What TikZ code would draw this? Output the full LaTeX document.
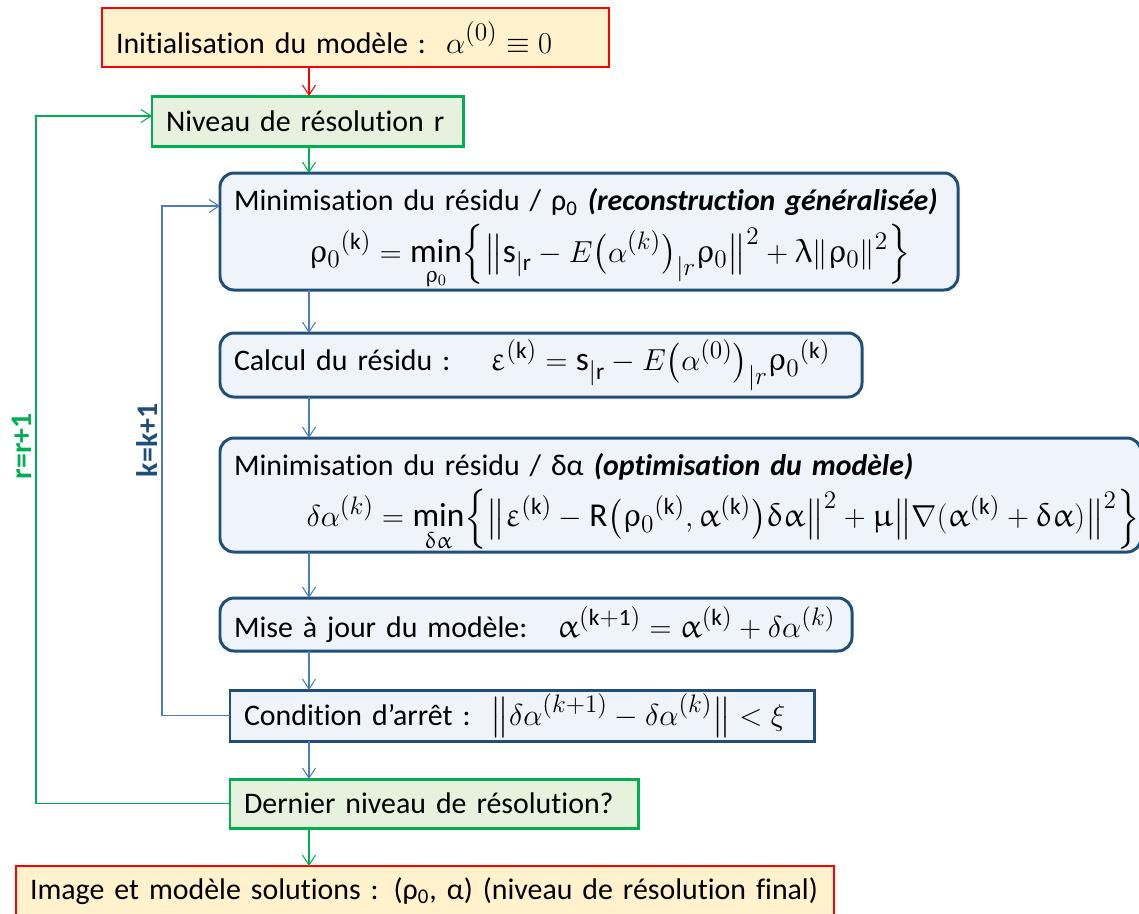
\documentclass[tikz,border=0pt]{standalone}
\usepackage{amsmath}
\usepackage{amssymb}
\usepackage{upgreek}
\usepackage{fontspec}
\setmainfont{Carlito}[Ligatures=NoCommon]
\usepackage{xcolor}
\usepackage{tikz}
\usetikzlibrary{arrows.meta, positioning}

\definecolor{initred}{HTML}{FF0000}
\definecolor{initfill}{HTML}{FFF2CC}
\definecolor{levgreen}{HTML}{00B050}
\definecolor{levfill}{HTML}{E6F2DD}
\definecolor{itblue}{HTML}{1F4E79}
\definecolor{itfill}{HTML}{EFF3FA}
\definecolor{arrblue}{HTML}{4A7EBB}
\newcommand{\eqm}[1]{\mbox{\fontsize{19}{23}\selectfont$\displaystyle #1$}}

\begin{document}
\begin{tikzpicture}
  \tikzset{
    box/.style={rectangle, inner xsep=0.28cm, inner ysep=0pt, outer sep=0pt, align=left,
                font=\fontsize{17}{20}\selectfont},
    inode/.style={box, draw=initred, line width=1.6pt, fill=initfill},
    lnode/.style={box, draw=levgreen, line width=1.7pt, fill=levfill},
    rnode/.style={box, rounded corners=8pt, draw=itblue, line width=1.7pt, fill=itfill},
    cnode/.style={box, draw=itblue, line width=1.7pt, fill=itfill},
    fnode/.style={box, draw=initred, line width=0.7pt, fill=initfill},
    arr/.style={-{Straight Barb[length=0.2cm, width=0.26cm]}, line width=0.6pt},
    lab/.style={font=\fontsize{17}{20}\selectfont\bfseries, rotate=90,
                anchor=south, inner sep=2pt}
  }
  \useasboundingbox (0,0) rectangle (22.78,-18.26);
  \coordinate (ax) at (6.18,0);
  % Initialisation and resolution level
  \node[inode, anchor=north west, text width=9.58cm, minimum height=1.18cm] (init) at (2.04,-0.16)
       {Initialisation du modèle :\ \ \eqm{\alpha^{(0)} \equiv 0}};
  \node[lnode, below=0.58cm of init.south west, anchor=north west, xshift=1cm,
        text width=5.66cm, minimum height=1cm] (level) {Niveau de résolution r};
  % Inner iterations
  \node[rnode, below=0.54cm of level.south west, anchor=north west, xshift=1.36cm,
        text width=14.2cm, minimum height=2.34cm] (minrho)
       {\rule{0pt}{0.75cm}Minimisation du résidu / ρ\textsubscript{0} \textbf{\textit{(reconstruction généralisée)}}\\[4pt]
        \hspace*{1.5cm}\eqm{\uprho_0{}^{(\mathrm{k})} = \min_{\uprho_0}\Bigl\{\bigl\|\mathrm{s}_{|\mathrm{r}}
        - E\bigl(\alpha^{(k)}\bigr)_{|r}\uprho_0\bigr\|^2 + \uplambda\|\uprho_0\|^2\Bigr\}}};
  \node[rnode, below=0.86cm of minrho.south west, anchor=north west,
        text width=12.28cm, minimum height=1.28cm] (resid)
       {Calcul du résidu :\quad\ \eqm{\upvarepsilon^{(\mathrm{k})} = \mathrm{s}_{|\mathrm{r}}
        - E\bigl(\alpha^{(0)}\bigr)_{|r}\uprho_0{}^{(\mathrm{k})}}};
  \node[rnode, below=0.82cm of resid.south west, anchor=north west,
        text width=17.86cm, minimum height=2.28cm] (minalpha)
       {\rule{0pt}{0.75cm}Minimisation du résidu / δα \textbf{\textit{(optimisation du modèle)}}\\[4pt]
        \hspace*{1.45cm}\eqm{\delta\alpha^{(k)} = \min_{\updelta\upalpha}\Bigl\{\bigl\|\upvarepsilon^{(\mathrm{k})}
        - \mathrm{R}\bigl(\uprho_0{}^{(\mathrm{k})},\upalpha^{(\mathrm{k})}\bigr)\updelta\upalpha\bigr\|^2
        + \upmu\bigl\|\nabla(\upalpha^{(\mathrm{k})} + \updelta\upalpha)\bigr\|^2\Bigr\}}};
  \node[rnode, below=0.92cm of minalpha.south west, anchor=north west,
        text width=12.08cm, minimum height=1.06cm] (update)
       {Mise à jour du modèle:\quad \eqm{\upalpha^{(\mathrm{k+1})} = \upalpha^{(\mathrm{k})} + \delta\alpha^{(k)}}};
  \node[cnode, below=0.78cm of update.south west, anchor=north west, xshift=0.2cm,
        text width=11.12cm, minimum height=1.02cm] (stop)
       {Condition d’arrêt :\ \ \eqm{\bigl\|\delta\alpha^{(k+1)} - \delta\alpha^{(k)}\bigr\| < \xi}};
  % Last level and result
  \node[lnode, below=0.76cm of stop.south west, anchor=north west,
        text width=7.6cm, minimum height=0.98cm] (last) {Dernier niveau de résolution?};
  \node[fnode, below=0.76cm of last.south west, anchor=north west, xshift=-4.28cm,
        text width=15.8cm, minimum height=1cm] (final)
       {Image et modèle solutions : (ρ\textsubscript{0}, α) (niveau de résolution final)};
  % Vertical arrows
  \foreach \a/\b/\c in {init/level/initred, level/minrho/levgreen, minrho/resid/arrblue,
                        resid/minalpha/arrblue, minalpha/update/arrblue, update/stop/arrblue,
                        stop/last/arrblue, last/final/levgreen}
    \draw[arr, \c] (\a.south -| ax) -- (\b.north -| ax);
  % Loops
  \draw[arr, arrblue] (stop.west) -- ++(-1.36,0)
    |- node[lab, pos=0.27, text=itblue] {k=k+1} ([yshift=-0.66cm]minrho.north west);
  \draw[arr, levgreen] (last.west) -- ++(-3.88,0)
    |- node[lab, pos=0.26, text=levgreen] {r=r+1} ([yshift=0.1cm]level.west);
\end{tikzpicture}
\end{document}
